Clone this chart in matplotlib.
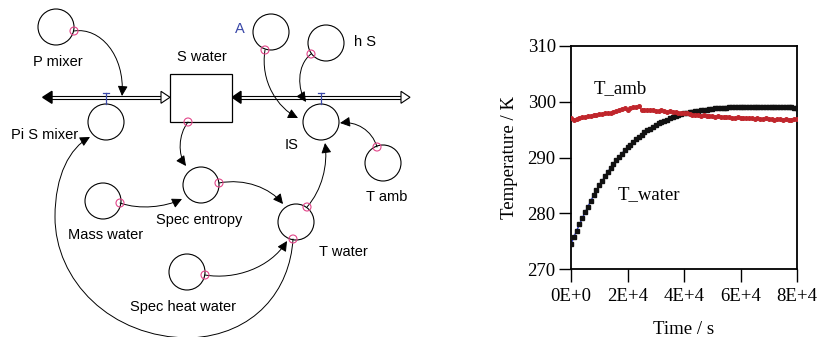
import matplotlib.pyplot as plt
import numpy as np
from matplotlib.patches import Circle, Rectangle, Polygon, FancyArrowPatch
from matplotlib.path import Path
from matplotlib.ticker import FuncFormatter

plt.switch_backend("Agg")

# --- chart data ---
time_s = np.arange(0, 81000, 1000)
t_water = [
    274.5, 275.7, 276.9, 278.0, 279.1, 280.2, 281.2, 282.2, 283.2, 284.1,
    285.0, 285.8, 286.6, 287.4, 288.1, 288.8, 289.5, 290.1, 290.7, 291.3,
    291.8, 292.3, 292.8, 293.3, 293.7, 294.1, 294.5, 294.9, 295.2, 295.5,
    295.8, 296.1, 296.4, 296.6, 296.8, 297.0, 297.2, 297.4, 297.6, 297.8,
    297.9, 298.0, 298.1, 298.2, 298.3, 298.4, 298.5, 298.5, 298.6, 298.7,
    298.7, 298.8, 298.8, 298.9, 298.9, 298.9, 299.0, 299.0, 299.0, 299.0,
    299.0, 299.0, 299.0, 299.1, 299.1, 299.1, 299.1, 299.1, 299.1, 299.1,
    299.0, 299.1, 299.1, 299.1, 299.1, 299.0, 299.1, 299.1, 299.0, 298.9,
    298.8,
]
t_amb = [
    297.0, 296.8, 296.9, 297.0, 297.2, 297.3, 297.4, 297.5, 297.6, 297.7,
    297.8, 297.8, 297.9, 298.0, 298.0, 298.1, 298.3, 298.5, 298.7, 298.8,
    298.6, 298.8, 299.0, 299.1, 299.2, 298.5, 298.5, 298.5, 298.5, 298.5,
    298.4, 298.4, 298.5, 298.3, 298.2, 298.3, 298.1, 298.1, 298.0, 298.0,
    297.9, 298.0, 297.8, 297.7, 297.6, 297.7, 297.5, 297.6, 297.4, 297.4,
    297.5, 297.3, 297.4, 297.3, 297.2, 297.3, 297.2, 297.1, 297.1, 297.2,
    297.0, 297.1, 297.0, 297.1, 297.0, 296.9, 297.0, 296.9, 296.9, 297.0,
    296.9, 296.9, 296.8, 296.9, 296.9, 296.8, 296.9, 296.8, 296.8, 296.9,
    296.9,
]
x_ticks = [0, 20000, 40000, 60000, 80000]
y_ticks = [270, 280, 290, 300, 310]

# --- stock/flow diagram elements (pixel layout, y down) ---
aux_vars = {
    # name: (cx, cy, label, label_x, label_y)
    "P mixer": (56, 27, "P mixer", 58, 62),
    "Pi S mixer": (106, 122, "Pi S mixer", 45, 135),
    "A": (271, 32, "A", 240, 29),
    "h S": (326, 43, "h S", 365, 42),
    "IS": (321, 122, "IS", 292, 145),
    "T amb": (383, 163, "T amb", 387, 197),
    "Spec entropy": (201, 185, "Spec entropy", 199, 220),
    "Mass water": (103, 201, "Mass water", 106, 235),
    "T water": (296, 222, "T water", 343, 252),
    "Spec heat water": (187, 272, "Spec heat water", 183, 307),
}
pink_pts = [(74, 31), (188, 122), (265, 50), (311, 54), (377, 147),
            (219, 183), (120, 203), (307, 207), (293, 239), (205, 275)]
links = [
    [(74, 31), (100, 27), (125, 55), (122, 96)],
    [(188, 122), (178, 135), (178, 155), (186, 166)],
    [(120, 203), (140, 210), (165, 207), (182, 199)],
    [(219, 183), (245, 178), (270, 188), (283, 204)],
    [(205, 275), (235, 280), (270, 268), (287, 241)],
    [(307, 207), (322, 190), (328, 165), (325, 143)],
    [(265, 50), (260, 82), (278, 108), (298, 118)],
    [(311, 54), (296, 66), (298, 90), (306, 102)],
    [(377, 147), (372, 130), (356, 121), (340, 123)],
]
PIPE_Y = 97.3
DIAG_FONT = "Liberation Sans"
SERIF = "Liberation Serif"
PINK = "#e2478a"
BLUE = "#3a48a8"


def bezier(points):
    codes = [Path.MOVETO] + [Path.CURVE4] * (len(points) - 1)
    return Path(points, codes)


def draw_diagram(ax):
    ax.set_xlim(0, 460)
    ax.set_ylim(337, 0)
    ax.axis("off")

    # pipes
    for x0, x1 in [(48, 162), (238, 403)]:
        for dy in (-1.8, 1.8):
            ax.plot([x0, x1], [PIPE_Y + dy] * 2, color="black", lw=0.8)
    ax.add_patch(Polygon([(42.7, PIPE_Y), (52, PIPE_Y - 6), (52, PIPE_Y + 6)], color="black"))
    ax.add_patch(Polygon([(232.3, PIPE_Y), (241, PIPE_Y - 6), (241, PIPE_Y + 6)], color="black"))
    for tip in (170, 410):
        ax.add_patch(Polygon([(tip, PIPE_Y), (tip - 9, PIPE_Y - 6), (tip - 9, PIPE_Y + 6)],
                             facecolor="white", edgecolor="black", lw=0.8, zorder=3))

    # valves
    for vx in (106, 321):
        ax.plot([vx, vx], [92.7, 103.5], color=BLUE, lw=0.9, zorder=4)
        ax.plot([vx - 3, vx + 3], [92.7, 92.7], color=BLUE, lw=0.9, zorder=4)

    # stock
    ax.add_patch(Rectangle((170, 74), 62.3, 47.7, facecolor="white", edgecolor="black", lw=0.9, zorder=3))
    ax.text(201.7, 57, "S water", ha="center", va="center", fontsize=10.5, family=DIAG_FONT)

    for cx, cy, label, lx, ly in aux_vars.values():
        ax.add_patch(Circle((cx, cy), 18, facecolor="white", edgecolor="black", lw=0.8, zorder=3))
        ax.text(lx, ly, label, ha="center", va="center", fontsize=10.5, family=DIAG_FONT,
                color=BLUE if label == "A" else "black")

    # links
    for pts in links:
        ax.add_patch(FancyArrowPatch(path=bezier(pts), arrowstyle="-|>,head_length=6,head_width=3",
                                     color="black", lw=0.7, zorder=5))
    loop = bezier([(293, 239), (290, 290), (255, 335), (190, 338),
                   (110, 338), (55, 280), (55, 217),
                   (55, 175), (70, 148), (90, 137)])
    ax.add_patch(FancyArrowPatch(path=loop, arrowstyle="-|>,head_length=6,head_width=3",
                                 color="black", lw=0.7, zorder=5))

    for px, py in pink_pts:
        ax.add_patch(Circle((px, py), 4, facecolor="none", edgecolor=PINK, lw=0.8, zorder=6))


def draw_chart(ax):
    ax.plot(time_s, t_water, color="#2a3bd0", lw=1.0, zorder=2)
    ax.plot(time_s, t_water, ls="none", marker="s", ms=2.8, color="#111111", zorder=3)
    ax.plot(time_s, t_amb, color="#c0262c", lw=0.8, marker="o", ms=2.6, zorder=3)

    ax.set_xlim(0, 80000)
    ax.set_ylim(270, 310)
    ax.set_xticks(x_ticks)
    ax.set_yticks(y_ticks)
    ax.xaxis.set_major_formatter(FuncFormatter(lambda v, _: f"{int(v / 10000)}E+{0 if v == 0 else 4}"))
    ax.tick_params(direction="out", length=9, width=1.0, labelsize=13.5)
    ax.tick_params(axis="x", pad=5)
    ax.tick_params(axis="y", pad=2)
    for lab in ax.get_xticklabels() + ax.get_yticklabels():
        lab.set_family(SERIF)
    for sp in ax.spines.values():
        sp.set_linewidth(1.3)

    ax.set_xlabel("Time / s", family=SERIF, fontsize=13.5, labelpad=11)
    ax.set_ylabel("Temperature / K", family=SERIF, fontsize=13.5, labelpad=7)
    ax.text(17300, 302.3, "T_amb", family=SERIF, fontsize=13.5, ha="center", va="center")
    ax.text(27400, 283.3, "T_water", family=SERIF, fontsize=13.5, ha="center", va="center")


fig = plt.figure(figsize=(8.24, 3.37), dpi=100)
ax_d = fig.add_axes([0, 0, 460 / 824, 1])
draw_diagram(ax_d)
ax_c = fig.add_axes([571 / 824, 68 / 337, 226 / 824, 223 / 337])
draw_chart(ax_c)
fig.savefig("out.png", dpi=100)
